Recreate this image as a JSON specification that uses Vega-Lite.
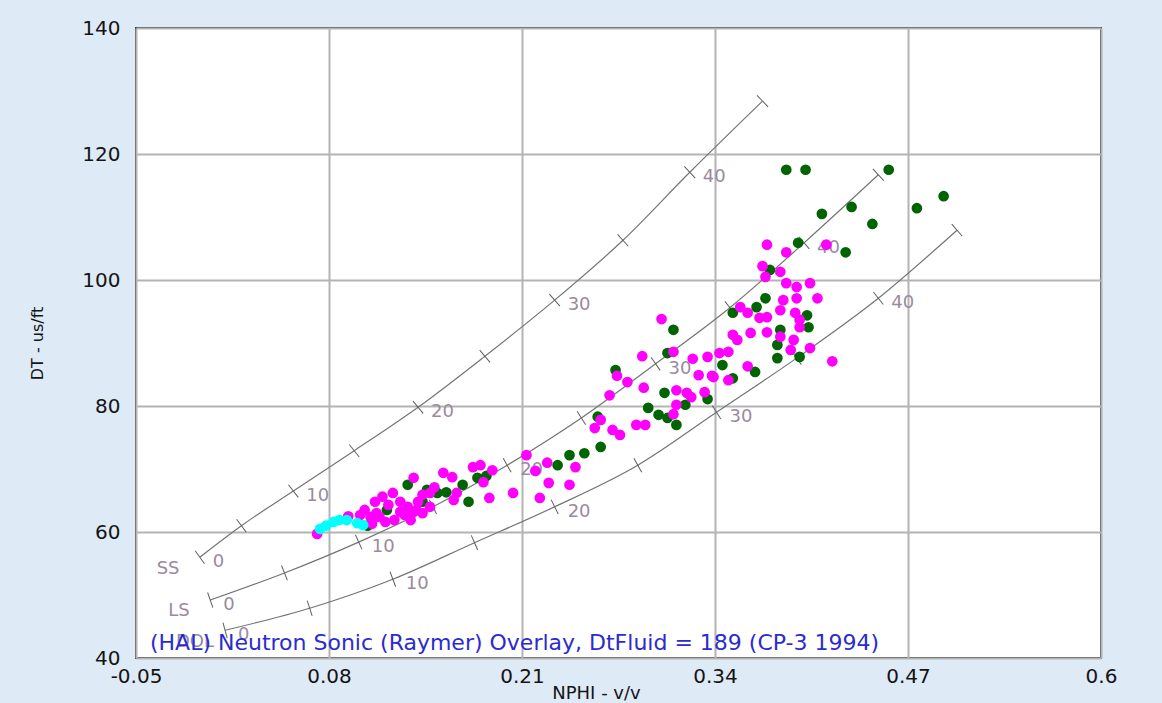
{
  "$schema": "https://vega.github.io/schema/vega-lite/v6.json",
  "width": 965,
  "height": 630,
  "autosize": {"type": "none"},
  "padding": {"left": 136, "top": 28, "right": 61, "bottom": 45},
  "background": "#dfeaf7",
  "config": {
    "view": {"fill": "#ffffff", "stroke": "#3a3a3a", "strokeWidth": 2},
    "font": "DejaVu Sans"
  },
  "datasets": {
    "curves": [
      {"lith": "SS", "pu": 0, "nphi": -0.007, "dt": 56.0},
      {"lith": "SS", "pu": 5, "nphi": 0.021, "dt": 61.0},
      {"lith": "SS", "pu": 10, "nphi": 0.056, "dt": 66.5},
      {"lith": "SS", "pu": 15, "nphi": 0.097, "dt": 72.9},
      {"lith": "SS", "pu": 20, "nphi": 0.140, "dt": 79.8},
      {"lith": "SS", "pu": 25, "nphi": 0.185, "dt": 87.9},
      {"lith": "SS", "pu": 30, "nphi": 0.232, "dt": 96.8},
      {"lith": "SS", "pu": 35, "nphi": 0.278, "dt": 106.3},
      {"lith": "SS", "pu": 40, "nphi": 0.323, "dt": 117.1},
      {"lith": "SS", "pu": 45, "nphi": 0.372, "dt": 128.4},
      {"lith": "LS", "pu": 0, "nphi": 0.000, "dt": 49.2},
      {"lith": "LS", "pu": 5, "nphi": 0.050, "dt": 53.5},
      {"lith": "LS", "pu": 10, "nphi": 0.100, "dt": 58.4},
      {"lith": "LS", "pu": 15, "nphi": 0.150, "dt": 64.0},
      {"lith": "LS", "pu": 20, "nphi": 0.200, "dt": 70.6},
      {"lith": "LS", "pu": 25, "nphi": 0.250, "dt": 78.1},
      {"lith": "LS", "pu": 30, "nphi": 0.300, "dt": 86.7},
      {"lith": "LS", "pu": 35, "nphi": 0.350, "dt": 95.6},
      {"lith": "LS", "pu": 40, "nphi": 0.400, "dt": 105.9},
      {"lith": "LS", "pu": 45, "nphi": 0.450, "dt": 116.7},
      {"lith": "DOL", "pu": 0, "nphi": 0.010, "dt": 44.4},
      {"lith": "DOL", "pu": 5, "nphi": 0.067, "dt": 47.9},
      {"lith": "DOL", "pu": 10, "nphi": 0.123, "dt": 52.5},
      {"lith": "DOL", "pu": 15, "nphi": 0.178, "dt": 58.3},
      {"lith": "DOL", "pu": 20, "nphi": 0.232, "dt": 64.0},
      {"lith": "DOL", "pu": 25, "nphi": 0.288, "dt": 70.6},
      {"lith": "DOL", "pu": 30, "nphi": 0.341, "dt": 79.0},
      {"lith": "DOL", "pu": 35, "nphi": 0.395, "dt": 87.6},
      {"lith": "DOL", "pu": 40, "nphi": 0.450, "dt": 97.1},
      {"lith": "DOL", "pu": 45, "nphi": 0.503, "dt": 107.9}
    ],
    "lithLabels": [
      {"name": "SS", "nphi": -0.0284, "dt": 54.1},
      {"name": "LS", "nphi": -0.021, "dt": 47.5},
      {"name": "DOL", "nphi": -0.0103, "dt": 42.5}
    ],
    "caption": [
      {"nphi": -0.0406, "dt": 41.3, "label": "(HAL) Neutron Sonic (Raymer) Overlay, DtFluid = 189 (CP-3 1994)"}
    ],
    "points": [
      {"g": "G", "nphi": 0.388, "dt": 117.5},
      {"g": "G", "nphi": 0.401, "dt": 117.5},
      {"g": "G", "nphi": 0.457, "dt": 117.5},
      {"g": "G", "nphi": 0.494, "dt": 113.3},
      {"g": "G", "nphi": 0.476, "dt": 111.4},
      {"g": "G", "nphi": 0.432, "dt": 111.6},
      {"g": "G", "nphi": 0.412, "dt": 110.5},
      {"g": "G", "nphi": 0.446, "dt": 108.9},
      {"g": "G", "nphi": 0.396, "dt": 105.9},
      {"g": "G", "nphi": 0.428, "dt": 104.4},
      {"g": "G", "nphi": 0.377, "dt": 101.6},
      {"g": "G", "nphi": 0.374, "dt": 97.1},
      {"g": "G", "nphi": 0.368, "dt": 95.7},
      {"g": "G", "nphi": 0.352, "dt": 94.8},
      {"g": "G", "nphi": 0.402, "dt": 94.4},
      {"g": "G", "nphi": 0.403, "dt": 92.5},
      {"g": "G", "nphi": 0.384, "dt": 92.1},
      {"g": "G", "nphi": 0.382, "dt": 89.7},
      {"g": "G", "nphi": 0.382, "dt": 87.6},
      {"g": "G", "nphi": 0.397, "dt": 87.8},
      {"g": "G", "nphi": 0.345, "dt": 86.5},
      {"g": "G", "nphi": 0.367, "dt": 85.4},
      {"g": "G", "nphi": 0.312, "dt": 92.1},
      {"g": "G", "nphi": 0.308, "dt": 88.4},
      {"g": "G", "nphi": 0.273, "dt": 85.7},
      {"g": "G", "nphi": 0.306, "dt": 82.1},
      {"g": "G", "nphi": 0.295, "dt": 79.7},
      {"g": "G", "nphi": 0.302, "dt": 78.6},
      {"g": "G", "nphi": 0.308, "dt": 78.1},
      {"g": "G", "nphi": 0.314, "dt": 77.0},
      {"g": "G", "nphi": 0.320, "dt": 80.2},
      {"g": "G", "nphi": 0.335, "dt": 81.1},
      {"g": "G", "nphi": 0.352, "dt": 84.4},
      {"g": "G", "nphi": 0.261, "dt": 78.3},
      {"g": "G", "nphi": 0.263, "dt": 73.5},
      {"g": "G", "nphi": 0.252, "dt": 72.5},
      {"g": "G", "nphi": 0.242, "dt": 72.2},
      {"g": "G", "nphi": 0.234, "dt": 70.6},
      {"g": "G", "nphi": 0.133, "dt": 67.5},
      {"g": "G", "nphi": 0.146, "dt": 66.7},
      {"g": "G", "nphi": 0.143, "dt": 64.8},
      {"g": "G", "nphi": 0.153, "dt": 66.2},
      {"g": "G", "nphi": 0.159, "dt": 66.3},
      {"g": "G", "nphi": 0.174, "dt": 64.8},
      {"g": "G", "nphi": 0.170, "dt": 67.5},
      {"g": "G", "nphi": 0.180, "dt": 68.6},
      {"g": "G", "nphi": 0.186, "dt": 68.9},
      {"g": "G", "nphi": 0.119, "dt": 63.5},
      {"g": "G", "nphi": 0.106, "dt": 61.0},
      {"g": "M", "nphi": 0.375, "dt": 105.6},
      {"g": "M", "nphi": 0.388, "dt": 104.4},
      {"g": "M", "nphi": 0.415, "dt": 105.6},
      {"g": "M", "nphi": 0.372, "dt": 102.2},
      {"g": "M", "nphi": 0.384, "dt": 101.3},
      {"g": "M", "nphi": 0.374, "dt": 100.5},
      {"g": "M", "nphi": 0.388, "dt": 99.5},
      {"g": "M", "nphi": 0.395, "dt": 98.9},
      {"g": "M", "nphi": 0.404, "dt": 99.5},
      {"g": "M", "nphi": 0.386, "dt": 96.8},
      {"g": "M", "nphi": 0.395, "dt": 97.1},
      {"g": "M", "nphi": 0.409, "dt": 97.1},
      {"g": "M", "nphi": 0.357, "dt": 95.7},
      {"g": "M", "nphi": 0.384, "dt": 95.2},
      {"g": "M", "nphi": 0.394, "dt": 94.8},
      {"g": "M", "nphi": 0.397, "dt": 93.7},
      {"g": "M", "nphi": 0.375, "dt": 94.1},
      {"g": "M", "nphi": 0.370, "dt": 94.0},
      {"g": "M", "nphi": 0.362, "dt": 94.8},
      {"g": "M", "nphi": 0.352, "dt": 91.3},
      {"g": "M", "nphi": 0.364, "dt": 91.6},
      {"g": "M", "nphi": 0.375, "dt": 91.7},
      {"g": "M", "nphi": 0.384, "dt": 91.0},
      {"g": "M", "nphi": 0.393, "dt": 90.5},
      {"g": "M", "nphi": 0.397, "dt": 92.5},
      {"g": "M", "nphi": 0.391, "dt": 88.9},
      {"g": "M", "nphi": 0.404, "dt": 89.2},
      {"g": "M", "nphi": 0.419, "dt": 87.1},
      {"g": "M", "nphi": 0.343, "dt": 88.4},
      {"g": "M", "nphi": 0.335, "dt": 87.8},
      {"g": "M", "nphi": 0.362, "dt": 86.3},
      {"g": "M", "nphi": 0.355, "dt": 90.5},
      {"g": "M", "nphi": 0.339, "dt": 84.6},
      {"g": "M", "nphi": 0.349, "dt": 84.1},
      {"g": "M", "nphi": 0.304, "dt": 93.8},
      {"g": "M", "nphi": 0.312, "dt": 88.6},
      {"g": "M", "nphi": 0.291, "dt": 87.9},
      {"g": "M", "nphi": 0.274, "dt": 84.8},
      {"g": "M", "nphi": 0.281, "dt": 83.8},
      {"g": "M", "nphi": 0.292, "dt": 82.9},
      {"g": "M", "nphi": 0.269, "dt": 81.7},
      {"g": "M", "nphi": 0.263, "dt": 77.8},
      {"g": "M", "nphi": 0.259, "dt": 76.5},
      {"g": "M", "nphi": 0.271, "dt": 76.2},
      {"g": "M", "nphi": 0.276, "dt": 75.4},
      {"g": "M", "nphi": 0.287, "dt": 77.0},
      {"g": "M", "nphi": 0.293, "dt": 77.0},
      {"g": "M", "nphi": 0.314, "dt": 82.5},
      {"g": "M", "nphi": 0.321, "dt": 82.1},
      {"g": "M", "nphi": 0.324, "dt": 81.4},
      {"g": "M", "nphi": 0.333, "dt": 82.2},
      {"g": "M", "nphi": 0.314, "dt": 80.2},
      {"g": "M", "nphi": 0.312, "dt": 78.7},
      {"g": "M", "nphi": 0.325, "dt": 87.5},
      {"g": "M", "nphi": 0.349, "dt": 88.6},
      {"g": "M", "nphi": 0.329, "dt": 84.9},
      {"g": "M", "nphi": 0.338, "dt": 84.8},
      {"g": "M", "nphi": 0.213, "dt": 72.2},
      {"g": "M", "nphi": 0.227, "dt": 71.0},
      {"g": "M", "nphi": 0.219, "dt": 69.7},
      {"g": "M", "nphi": 0.246, "dt": 70.3},
      {"g": "M", "nphi": 0.228, "dt": 67.8},
      {"g": "M", "nphi": 0.242, "dt": 67.5},
      {"g": "M", "nphi": 0.222, "dt": 65.4},
      {"g": "M", "nphi": 0.204, "dt": 66.2},
      {"g": "M", "nphi": 0.188, "dt": 65.4},
      {"g": "M", "nphi": 0.177, "dt": 70.3},
      {"g": "M", "nphi": 0.182, "dt": 70.6},
      {"g": "M", "nphi": 0.190, "dt": 69.8},
      {"g": "M", "nphi": 0.184, "dt": 67.9},
      {"g": "M", "nphi": 0.157, "dt": 69.4},
      {"g": "M", "nphi": 0.163, "dt": 68.7},
      {"g": "M", "nphi": 0.166, "dt": 66.2},
      {"g": "M", "nphi": 0.164, "dt": 65.1},
      {"g": "M", "nphi": 0.151, "dt": 67.1},
      {"g": "M", "nphi": 0.137, "dt": 68.6},
      {"g": "M", "nphi": 0.143, "dt": 65.9},
      {"g": "M", "nphi": 0.123, "dt": 66.2},
      {"g": "M", "nphi": 0.116, "dt": 65.6},
      {"g": "M", "nphi": 0.111, "dt": 64.8},
      {"g": "M", "nphi": 0.128, "dt": 64.8},
      {"g": "M", "nphi": 0.128, "dt": 63.2},
      {"g": "M", "nphi": 0.133, "dt": 64.0},
      {"g": "M", "nphi": 0.137, "dt": 63.2},
      {"g": "M", "nphi": 0.143, "dt": 63.0},
      {"g": "M", "nphi": 0.124, "dt": 61.9},
      {"g": "M", "nphi": 0.135, "dt": 61.9},
      {"g": "M", "nphi": 0.093, "dt": 62.5},
      {"g": "M", "nphi": 0.101, "dt": 62.7},
      {"g": "M", "nphi": 0.108, "dt": 62.4},
      {"g": "M", "nphi": 0.114, "dt": 62.4},
      {"g": "M", "nphi": 0.072, "dt": 59.7},
      {"g": "M", "nphi": 0.148, "dt": 66.2},
      {"g": "M", "nphi": 0.139, "dt": 63.5},
      {"g": "M", "nphi": 0.112, "dt": 63.0},
      {"g": "M", "nphi": 0.120, "dt": 64.3},
      {"g": "M", "nphi": 0.131, "dt": 62.7},
      {"g": "M", "nphi": 0.118, "dt": 61.6},
      {"g": "M", "nphi": 0.109, "dt": 61.3},
      {"g": "M", "nphi": 0.140, "dt": 64.8},
      {"g": "M", "nphi": 0.148, "dt": 64.0},
      {"g": "M", "nphi": 0.104, "dt": 63.5},
      {"g": "C", "nphi": 0.074, "dt": 60.5},
      {"g": "C", "nphi": 0.078, "dt": 61.0},
      {"g": "C", "nphi": 0.083, "dt": 61.6},
      {"g": "C", "nphi": 0.087, "dt": 61.9},
      {"g": "C", "nphi": 0.092, "dt": 61.9},
      {"g": "C", "nphi": 0.099, "dt": 61.4},
      {"g": "C", "nphi": 0.103, "dt": 61.1}
    ]
  },
  "encoding": {
    "x": {
      "field": "nphi",
      "type": "quantitative",
      "scale": {"domain": [-0.05, 0.6], "nice": false, "zero": false},
      "axis": {
        "values": [-0.05, 0.08, 0.21, 0.34, 0.47, 0.6],
        "labelExpr": "replace(format(datum.value, '.2~f'), '\u2212', '-')",
        "ticks": false,
        "domain": false,
        "grid": true,
        "gridColor": "#b4b4b4",
        "gridWidth": 2,
        "labelFont": "DejaVu Sans",
        "labelFontSize": 20,
        "labelColor": "#141414",
        "labelPadding": 8,
        "labelOverlap": false,
        "labelFlush": false,
        "labelBound": false,
        "title": "NPHI - v/v",
        "titleFont": "DejaVu Sans",
        "titleFontSize": 18,
        "titleFontWeight": "normal",
        "titleColor": "#141414",
        "titleX": 460,
        "titleY": 35,
        "titleAlign": "center",
        "titleBaseline": "middle"
      }
    },
    "y": {
      "field": "dt",
      "type": "quantitative",
      "scale": {"domain": [40, 140], "nice": false, "zero": false},
      "axis": {
        "values": [40, 60, 80, 100, 120, 140],
        "ticks": false,
        "domain": false,
        "grid": true,
        "gridColor": "#b4b4b4",
        "gridWidth": 2,
        "labelFont": "DejaVu Sans",
        "labelFontSize": 20,
        "labelColor": "#141414",
        "labelPadding": 16,
        "labelOverlap": false,
        "labelFlush": false,
        "labelBound": false,
        "title": "DT - us/ft",
        "titleFont": "DejaVu Sans",
        "titleFontSize": 16,
        "titleFontWeight": "normal",
        "titleColor": "#141414",
        "titleAngle": -90,
        "titleX": -99,
        "titleY": 315,
        "titleAlign": "center",
        "titleBaseline": "middle"
      }
    }
  },
  "layer": [
    {
      "data": {"name": "curves"},
      "mark": {"type": "line", "color": "#747474", "strokeWidth": 1.2, "interpolate": "monotone"},
      "encoding": {
        "detail": {"field": "lith"},
        "order": {"field": "pu", "type": "quantitative"}
      }
    },
    {
      "data": {"name": "curves"},
      "transform": [{"filter": "datum.lith == 'SS'"}],
      "mark": {"type": "point", "shape": "M -1 0 L 1 0", "filled": false, "stroke": "#606060", "strokeWidth": 1, "size": 256, "opacity": 1},
      "encoding": {
        "angle": {"field": "pu", "type": "quantitative", "scale": {"domain": [0, 45], "range": [54, 46]}, "legend": null}
      }
    },
    {
      "data": {"name": "curves"},
      "transform": [{"filter": "datum.lith == 'LS'"}],
      "mark": {"type": "point", "shape": "M -1 0 L 1 0", "filled": false, "stroke": "#606060", "strokeWidth": 1, "size": 256, "opacity": 1},
      "encoding": {
        "angle": {"field": "pu", "type": "quantitative", "scale": {"domain": [0, 45], "range": [71, 47]}, "legend": null}
      }
    },
    {
      "data": {"name": "curves"},
      "transform": [{"filter": "datum.lith == 'DOL'"}],
      "mark": {"type": "point", "shape": "M -1 0 L 1 0", "filled": false, "stroke": "#606060", "strokeWidth": 1, "size": 256, "opacity": 1},
      "encoding": {
        "angle": {"field": "pu", "type": "quantitative", "scale": {"domain": [0, 45], "range": [75, 49]}, "legend": null}
      }
    },
    {
      "data": {"name": "curves"},
      "transform": [{"filter": "datum.pu % 10 == 0"}],
      "mark": {"type": "text", "align": "left", "baseline": "middle", "dx": 13, "dy": 5, "fontSize": 18, "font": "DejaVu Sans", "color": "#9a8aa0"},
      "encoding": {
        "text": {"field": "pu", "type": "quantitative", "format": "d"}
      }
    },
    {
      "data": {"name": "lithLabels"},
      "mark": {"type": "text", "align": "center", "baseline": "middle", "fontSize": 18, "font": "DejaVu Sans", "color": "#9a8aa0"},
      "encoding": {
        "text": {"field": "name", "type": "nominal"}
      }
    },
    {
      "data": {"name": "points"},
      "mark": {"type": "circle", "size": 115, "opacity": 1},
      "encoding": {
        "color": {
          "field": "g",
          "type": "nominal",
          "scale": {"domain": ["G", "M", "C"], "range": ["#006400", "#ff00ff", "#00ffff"]},
          "legend": null
        }
      }
    },
    {
      "data": {"name": "caption"},
      "mark": {"type": "text", "align": "left", "baseline": "alphabetic", "fontSize": 22, "font": "DejaVu Sans", "color": "#2b2bd0"},
      "encoding": {
        "text": {"field": "label", "type": "nominal"}
      }
    }
  ],
  "resolve": {"scale": {"angle": "independent"}}
}
